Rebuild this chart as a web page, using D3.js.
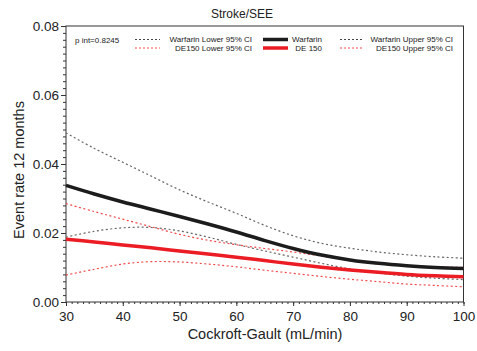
<!DOCTYPE html>
<html>
<head>
<meta charset="utf-8">
<script src="https://cdn.jsdelivr.net/npm/d3@7"></script>
<style>
  body { margin: 0; background: #fff; }
  text { font-family: "Liberation Sans", Arial, sans-serif; }
</style>
</head>
<body>
<div id="chart"></div>
<script>
// data
const crcl = [30, 35, 40, 45, 50, 55, 60, 65, 70, 75, 80, 85, 90, 95, 100];
const warfarin      = [.0338, .0313, .0290, .0269, .0248, .0226, .0203, .0178, .0155, .0136, .0122, .0112, .0105, .0100, .0097];
const warfarinLower = [.0188, .0205, .0215, .0216, .0206, .0188, .0167, .0148, .0130, .0112, .0096, .0084, .0075, .0069, .0065];
const warfarinUpper = [.0490, .0445, .0405, .0365, .0325, .0290, .0257, .0222, .0192, .0170, .0156, .0145, .0137, .0131, .0127];
const de150         = [.0182, .0174, .0165, .0157, .0148, .0139, .0130, .0120, .0110, .0101, .0093, .0086, .0080, .0076, .0073];
const de150Lower    = [.0078, .0095, .0110, .0117, .0116, .0110, .0102, .0092, .0083, .0074, .0066, .0059, .0052, .0048, .0044];
const de150Upper    = [.0285, .0262, .0240, .0218, .0196, .0179, .0166, .0155, .0145, .0133, .0120, .0111, .0105, .0102, .0100];
const xTicks = [30, 40, 50, 60, 70, 80, 90, 100];
const yTicks = [0, 0.02, 0.04, 0.06, 0.08];
const pint = "p int=0.8245";

(function () {
let w = 477, h = 351;
let pLeft = 66, pRight = 463.5, pTop = 26, pBottom = 302;

let svg = d3.select("#chart").append("svg")
    .attr("width", w)
    .attr("height", h);

let xScale = d3.scaleLinear().domain([30, 100]).range([pLeft, pRight]);
let yScale = d3.scaleLinear().domain([0, 0.08]).range([pBottom, pTop]);

//axes: major + minor ticks, domain line replaced by frame
let xMinor = d3.axisBottom(xScale).tickValues(d3.range(30, 101, 1)).tickSize(2).tickFormat("");
let xMajor = d3.axisBottom(xScale).tickValues(xTicks).tickSize(4).tickPadding(5).tickFormat(d3.format("d"));
let yMinor = d3.axisLeft(yScale).tickValues(d3.range(0, 41).map(i => i * 0.002)).tickSize(3).tickFormat("");
let yMajor = d3.axisLeft(yScale).tickValues(yTicks).tickSize(5).tickPadding(2).tickFormat(d3.format(".2f"));

[xMinor, xMajor].forEach(a => {
    svg.append("g").attr("transform", `translate(0, ${pBottom})`).call(a)
        .call(g => g.select(".domain").remove())
        .call(g => g.selectAll("line").attr("stroke", "#333"));
});
[yMinor, yMajor].forEach(a => {
    svg.append("g").attr("transform", `translate(${pLeft}, 0)`).call(a)
        .call(g => g.select(".domain").remove())
        .call(g => g.selectAll("line").attr("stroke", "#333"));
});
svg.selectAll(".tick text")
    .attr("font-size", "13.5px")
    .attr("fill", "#222")
    .style("font-family", "'Liberation Sans', Arial, sans-serif");

svg.append("rect")
    .attr("x", pLeft).attr("y", pTop)
    .attr("width", pRight - pLeft).attr("height", pBottom - pTop)
    .attr("fill", "none").attr("stroke", "#333").attr("stroke-width", 1);

//curves
let series = [
    { name: "Warfarin Upper", values: warfarinUpper, color: "#666", width: 1.2, dash: "2,2.5" },
    { name: "Warfarin Lower", values: warfarinLower, color: "#666", width: 1.2, dash: "2,2.5" },
    { name: "DE150 Upper", values: de150Upper, color: "#f24a4a", width: 1.2, dash: "2,2.5" },
    { name: "DE150 Lower", values: de150Lower, color: "#f24a4a", width: 1.2, dash: "2,2.5" },
    { name: "Warfarin", values: warfarin, color: "#1c1c1c", width: 3.5, dash: null },
    { name: "DE150", values: de150, color: "#ec1c24", width: 3.5, dash: null }
];

let line = d3.line()
    .x((d, i) => xScale(crcl[i]))
    .y(d => yScale(d))
    .curve(d3.curveCatmullRom);

svg.selectAll(".curve")
    .data(series)
    .enter()
    .append("path")
    .attr("class", "curve")
    .attr("d", d => line(d.values))
    .attr("fill", "none")
    .attr("stroke", d => d.color)
    .attr("stroke-width", d => d.width)
    .attr("stroke-dasharray", d => d.dash);

//titles
svg.append("text")
    .attr("x", 242).attr("y", 18)
    .attr("text-anchor", "middle")
    .attr("font-size", "12px").attr("fill", "#222")
    .text("Stroke/SEE");

svg.append("text")
    .attr("x", 265).attr("y", 339)
    .attr("text-anchor", "middle")
    .attr("font-size", "14.5px").attr("fill", "#222")
    .text("Cockroft-Gault (mL/min)");

svg.append("text")
    .attr("transform", "translate(24, 170) rotate(-90)")
    .attr("text-anchor", "middle")
    .attr("font-size", "14.5px").attr("fill", "#222")
    .text("Event rate 12 months");

//legend
svg.append("text")
    .attr("x", 75).attr("y", 42.5)
    .attr("font-size", "8px").attr("fill", "#222")
    .text(pint);

let legendItems = [
    { label: "Warfarin Lower 95% CI", color: "#444", width: 1, dash: "2,2", col: 0, row: 0 },
    { label: "DE150 Lower 95% CI", color: "#f24a4a", width: 1, dash: "2,2", col: 0, row: 1 },
    { label: "Warfarin", color: "#1c1c1c", width: 3.5, dash: null, col: 1, row: 0 },
    { label: "DE 150", color: "#ec1c24", width: 3.5, dash: null, col: 1, row: 1 },
    { label: "Warfarin Upper 95% CI", color: "#444", width: 1, dash: "2,2", col: 2, row: 0 },
    { label: "DE150 Upper 95% CI", color: "#f24a4a", width: 1, dash: "2,2", col: 2, row: 1 }
];
let cols = [
    { x0: 135, x1: 160, tx: 252 },
    { x0: 263, x1: 288, tx: 322 },
    { x0: 340, x1: 363, tx: 453 }
];

let legend = svg.selectAll(".legend")
    .data(legendItems)
    .enter()
    .append("g")
    .attr("class", "legend")
    .attr("transform", d => `translate(0, ${39.5 + d.row * 8.5})`);

legend.append("line")
    .attr("x1", d => cols[d.col].x0)
    .attr("x2", d => cols[d.col].x1)
    .attr("stroke", d => d.color)
    .attr("stroke-width", d => d.width)
    .attr("stroke-dasharray", d => d.dash);

legend.append("text")
    .attr("x", d => cols[d.col].tx)
    .attr("y", 2.8)
    .attr("text-anchor", "end")
    .attr("font-size", "8px")
    .attr("fill", "#222")
    .text(d => d.label);
})();
</script>
</body>
</html>
